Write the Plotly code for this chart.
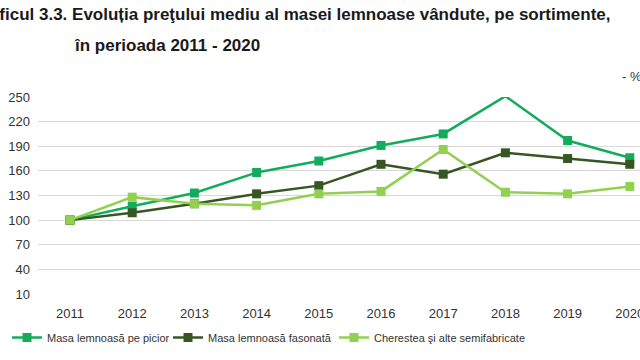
import plotly.graph_objects as go

years = ["2011", "2012", "2013", "2014", "2015", "2016", "2017", "2018", "2019", "2020"]
picior = [100, 117, 133, 158, 172, 191, 205, 251, 197, 176]
fasonata = [100, 109, 120, 132, 142, 168, 156, 182, 175, 168]
cherestea = [100, 128, 120, 118, 132, 135, 186, 134, 132, 141]
series_names = ["Masa lemnoasă pe picior", "Masa lemnoasă fasonată", "Cherestea şi alte semifabricate"]
colors = ["#13AC5C", "#375623", "#92D050"]
yticks = [10, 40, 70, 100, 130, 160, 190, 220, 250]

W, H = 640, 360
L, R, T, B = 38, 0, 97, 66
pw = W - L - R
ph = H - T - B

font_fam = "Liberation Sans, Arial, sans-serif"
legend_x_px = [7, 168, 334]
legend_ids = ["legend", "legend2", "legend3"]

fig = go.Figure()
for name, vals, col, lid in zip(series_names, [picior, fasonata, cherestea], colors, legend_ids):
    fig.add_trace(go.Scatter(
        x=list(range(len(years))), y=vals, name=name, mode="lines+markers",
        line=dict(color=col, width=2.5),
        marker=dict(symbol="square", size=9, color=col),
        cliponaxis=False, legend=lid,
    ))

step = 62.2
x0_px = 70 - L
xmin = -x0_px / step
xmax = xmin + pw / step

legend_common = dict(orientation="h", xanchor="left", yref="container", xref="container",
                     y=1 - 323 / H, yanchor="top",
                     font=dict(family=font_fam, size=11, color="#333333"),
                     itemwidth=30, bgcolor="rgba(0,0,0,0)")

fig.update_layout(
    width=W, height=H,
    margin=dict(l=L, r=R, t=T, b=B, autoexpand=False),
    plot_bgcolor="white", paper_bgcolor="white",
    font=dict(family=font_fam, size=13, color="#333333"),
    showlegend=True,
    legend=dict(x=legend_x_px[0] / W, **legend_common),
    legend2=dict(x=legend_x_px[1] / W, **legend_common),
    legend3=dict(x=legend_x_px[2] / W, **legend_common),
    xaxis=dict(range=[xmin, xmax], tickmode="array", tickvals=list(range(len(years))),
               ticktext=years, showgrid=False, zeroline=False, showline=False, ticks="",
               ticklabelstandoff=10, ticklabeloverflow="allow",
               tickfont=dict(size=13, family=font_fam, color="#333333")),
    yaxis=dict(range=[10, 250], tickmode="array", tickvals=yticks, showgrid=True,
               gridcolor="#D9D9D9", gridwidth=1, zeroline=False, showline=False, ticks="",
               ticklabelstandoff=7, ticklabeloverflow="allow",
               tickfont=dict(size=13, family=font_fam, color="#333333")),
)

title_font = dict(family="Liberation Sans, Arial, sans-serif", size=17, color="#1a1a1a")
fig.add_annotation(
    text="<b>Graficul 3.3. Evoluția preţului mediu al masei lemnoase vândute, pe sortimente,</b>",
    xref="paper", yref="paper", x=(-32 - L) / pw, xanchor="left",
    y=1 + (T - 15) / ph, yanchor="middle", showarrow=False, font=title_font,
)
fig.add_annotation(
    text="<b>în perioada 2011 - 2020</b>",
    xref="paper", yref="paper", x=(72 - L) / pw, xanchor="left",
    y=1 + (T - 45) / ph, yanchor="middle", showarrow=False, font=title_font,
)
fig.add_annotation(
    text="- %", xref="paper", yref="paper", x=(620 - L) / pw, xanchor="left",
    y=1 + (T - 77) / ph, yanchor="middle", showarrow=False,
    font=dict(family=font_fam, size=13, color="#333333"),
)

fig.write_html("out.html", config={"displayModeBar": False},
               post_script="document.body.style.margin='0';document.body.style.overflow='hidden';")
